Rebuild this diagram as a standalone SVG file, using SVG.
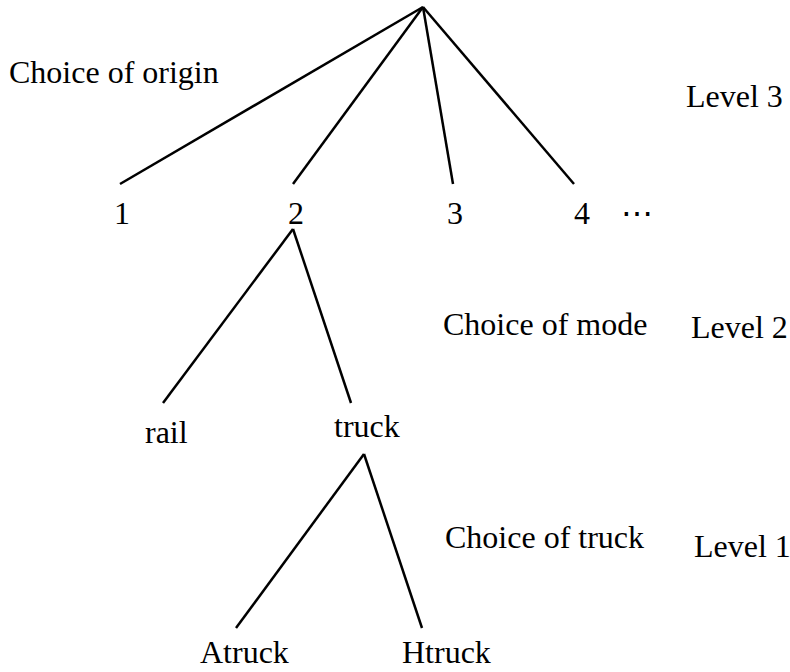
<svg xmlns="http://www.w3.org/2000/svg" width="790" height="672" viewBox="0 0 790 672">
<style>
.t { font-family: 'Liberation Serif', 'Times New Roman', Times, 'DejaVu Serif', serif; font-size: 32px; fill: #000; }
.edge { stroke: #000; stroke-width: 2.5; fill: none; stroke-linecap: butt; }
</style>
<rect width="790" height="672" fill="#fff"/>
<g id="connectors">
  <line class="edge" x1="423" y1="7" x2="120" y2="184"/>
  <line class="edge" x1="423" y1="7" x2="293" y2="184"/>
  <line class="edge" x1="423" y1="7" x2="453" y2="184"/>
  <line class="edge" x1="423" y1="7" x2="574" y2="184"/>
  <line class="edge" x1="293" y1="229" x2="163" y2="403"/>
  <line class="edge" x1="293" y1="229" x2="351" y2="403"/>
  <line class="edge" x1="364" y1="454" x2="236" y2="628"/>
  <line class="edge" x1="364" y1="454" x2="422" y2="628"/>
</g>
<g id="labels" class="t" font-family="Liberation Serif, serif">
  <text x="9" y="83">Choice of origin</text>
  <text x="686" y="107">Level 3</text>
  <text x="443" y="335">Choice of mode</text>
  <text x="691" y="338">Level 2</text>
  <text x="445" y="548">Choice of truck</text>
  <text x="694" y="557">Level 1</text>
</g>
<g id="node-1" class="t"><text x="122" y="224" text-anchor="middle">1</text></g>
<g id="node-2" class="t"><text x="296" y="224" text-anchor="middle">2</text></g>
<g id="node-3" class="t"><text x="455" y="224" text-anchor="middle">3</text></g>
<g id="node-4" class="t"><text x="582" y="224" text-anchor="middle">4</text></g>
<g id="node-more" class="t"><text x="637" y="224" text-anchor="middle">⋯</text></g>
<g id="node-rail" class="t"><text x="145" y="443">rail</text></g>
<g id="node-truck" class="t"><text x="334" y="437">truck</text></g>
<g id="node-atruck" class="t"><text x="200" y="663">Atruck</text></g>
<g id="node-htruck" class="t"><text x="402" y="663">Htruck</text></g>
</svg>
